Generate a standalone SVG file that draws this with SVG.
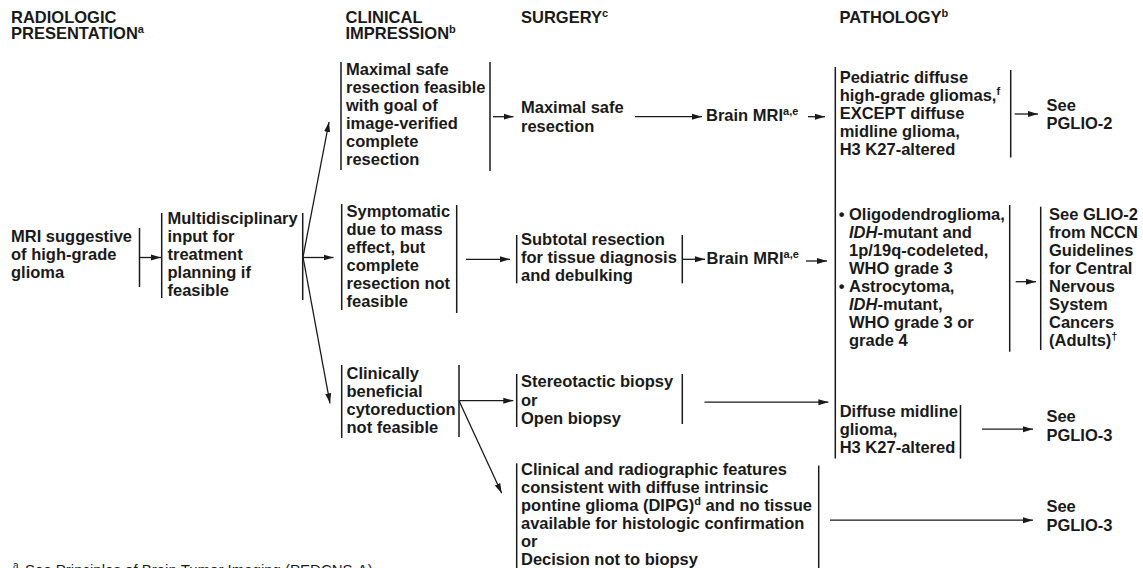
<svg xmlns="http://www.w3.org/2000/svg" width="1143" height="568" viewBox="0 0 1143 568">
<defs>
<style>
text{font-family:"Liberation Sans",Arial,sans-serif;font-size:16.5px;font-weight:bold;fill:#1a1a1a}
.sup{font-size:11px}
.it{font-style:italic}
.foot{font-weight:normal;font-size:15px}
.bar{stroke:#1a1a1a;stroke-width:1.5;fill:none}
.con{stroke:#1a1a1a;stroke-width:1.3;fill:none;marker-end:url(#ah)}
</style>
<marker id="ah" markerUnits="userSpaceOnUse" markerWidth="10" markerHeight="7" refX="10" refY="3.5" orient="auto">
<path d="M0,0.5 L10,3.5 L0,6.5 z" fill="#1a1a1a"/>
</marker>
</defs>
<rect width="1143" height="568" fill="#ffffff"/>

<g id="headers">
<text x="11" y="22.5">RADIOLOGIC</text>
<text x="11" y="38.5">PRESENTATION<tspan class="sup" dy="-6">a</tspan></text>
<text x="345.5" y="22.5">CLINICAL</text>
<text x="345.5" y="38.5">IMPRESSION<tspan class="sup" dy="-6">b</tspan></text>
<text x="521" y="22.5">SURGERY<tspan class="sup" dy="-6">c</tspan></text>
<text x="839.5" y="22.5">PATHOLOGY<tspan class="sup" dy="-6">b</tspan></text>
</g>

<g id="n-mri">
<text x="11" y="242">MRI suggestive</text>
<text x="11" y="260">of high-grade</text>
<text x="11" y="278">glioma</text>
<line class="bar" x1="139.5" y1="228" x2="139.5" y2="287"/>
</g>

<g id="n-multi">
<line class="bar" x1="161.7" y1="213" x2="161.7" y2="298"/>
<text x="167.5" y="224.3">Multidisciplinary</text>
<text x="167.5" y="242.3">input for</text>
<text x="167.5" y="260.3">treatment</text>
<text x="167.5" y="278.3">planning if</text>
<text x="167.5" y="296.3">feasible</text>
<line class="bar" x1="302.7" y1="213" x2="302.7" y2="300"/>
</g>

<g id="n-maxfeasible">
<line class="bar" x1="341" y1="62" x2="341" y2="170"/>
<text x="346" y="75">Maximal safe</text>
<text x="346" y="93">resection feasible</text>
<text x="346" y="111">with goal of</text>
<text x="346" y="129">image-verified</text>
<text x="346" y="147">complete</text>
<text x="346" y="165">resection</text>
<line class="bar" x1="490" y1="62" x2="490" y2="171"/>
</g>

<g id="n-maxresection">
<text x="521" y="113.3">Maximal safe</text>
<text x="521" y="131.5">resection</text>
</g>

<g id="n-mri1">
<text x="706" y="120.7">Brain MRI<tspan class="sup" dy="-6">a,e</tspan></text>
</g>

<g id="n-pediatric">
<text x="839.7" y="82.7">Pediatric diffuse</text>
<text x="839.7" y="100.7">high-grade gliomas,<tspan class="sup" dy="-6">f</tspan></text>
<text x="839.7" y="118.7">EXCEPT diffuse</text>
<text x="839.7" y="136.7">midline glioma,</text>
<text x="839.7" y="154.7">H3 K27-altered</text>
<line class="bar" x1="1010.7" y1="70" x2="1010.7" y2="157.5"/>
</g>

<g id="n-pathbar">
<line class="bar" x1="835.3" y1="67" x2="835.3" y2="458.6"/>
</g>

<g id="n-pglio2">
<text x="1046.5" y="111">See</text>
<text x="1046.5" y="129">PGLIO-2</text>
</g>

<g id="n-symptomatic">
<line class="bar" x1="341.7" y1="204" x2="341.7" y2="310"/>
<text x="346.5" y="217">Symptomatic</text>
<text x="346.5" y="235">due to mass</text>
<text x="346.5" y="253">effect, but</text>
<text x="346.5" y="271">complete</text>
<text x="346.5" y="289">resection not</text>
<text x="346.5" y="307">feasible</text>
<line class="bar" x1="456.7" y1="205" x2="456.7" y2="313"/>
</g>

<g id="n-subtotal">
<line class="bar" x1="516.7" y1="235" x2="516.7" y2="283.3"/>
<text x="521" y="245">Subtotal resection</text>
<text x="521" y="263">for tissue diagnosis</text>
<text x="521" y="281">and debulking</text>
<line class="bar" x1="682.3" y1="235" x2="682.3" y2="283.3"/>
</g>

<g id="n-mri2">
<text x="706.5" y="264">Brain MRI<tspan class="sup" dy="-6">a,e</tspan></text>
</g>

<g id="n-oligo">
<text x="838.7" y="220">•</text>
<text x="849" y="220">Oligodendroglioma,</text>
<text x="849" y="238"><tspan class="it">IDH</tspan>-mutant and</text>
<text x="849" y="256">1p/19q-codeleted,</text>
<text x="849" y="274">WHO grade 3</text>
<text x="838.7" y="292">•</text>
<text x="849" y="292">Astrocytoma,</text>
<text x="849" y="310"><tspan class="it">IDH</tspan>-mutant,</text>
<text x="849" y="328">WHO grade 3 or</text>
<text x="849" y="346">grade 4</text>
<line class="bar" x1="1009.7" y1="205" x2="1009.7" y2="351.7"/>
</g>

<g id="n-glio2">
<line class="bar" x1="1040.7" y1="206.7" x2="1040.7" y2="350"/>
<text x="1049" y="220">See GLIO-2</text>
<text x="1049" y="238">from NCCN</text>
<text x="1049" y="256">Guidelines</text>
<text x="1049" y="274">for Central</text>
<text x="1049" y="292">Nervous</text>
<text x="1049" y="310">System</text>
<text x="1049" y="328">Cancers</text>
<text x="1049" y="346">(Adults)<tspan class="sup" dy="-6">†</tspan></text>
</g>

<g id="n-clinically">
<line class="bar" x1="341.7" y1="365" x2="341.7" y2="438"/>
<text x="346.5" y="379.3">Clinically</text>
<text x="346.5" y="397.3">beneficial</text>
<text x="346.5" y="415.3">cytoreduction</text>
<text x="346.5" y="433.3">not feasible</text>
<line class="bar" x1="459" y1="365" x2="459" y2="437"/>
</g>

<g id="n-biopsy">
<line class="bar" x1="516.7" y1="374" x2="516.7" y2="427"/>
<text x="521" y="387">Stereotactic biopsy</text>
<text x="521" y="405.5">or</text>
<text x="521" y="424">Open biopsy</text>
<line class="bar" x1="682.3" y1="374" x2="682.3" y2="424"/>
</g>

<g id="n-midline">
<text x="839.7" y="417">Diffuse midline</text>
<text x="839.7" y="435">glioma,</text>
<text x="839.7" y="453">H3 K27-altered</text>
<line class="bar" x1="960.5" y1="405" x2="960.5" y2="458.6"/>
</g>

<g id="n-pglio3a">
<text x="1046.4" y="422.3">See</text>
<text x="1046.4" y="441.3">PGLIO-3</text>
</g>

<g id="n-dipg">
<line class="bar" x1="516.7" y1="463.3" x2="516.7" y2="568"/>
<text x="521" y="475">Clinical and radiographic features</text>
<text x="521" y="493">consistent with diffuse intrinsic</text>
<text x="521" y="511">pontine glioma (DIPG)<tspan class="sup" dy="-6">d</tspan><tspan dy="6"> and no tissue</tspan></text>
<text x="521" y="529">available for histologic confirmation</text>
<text x="521" y="547">or</text>
<text x="521" y="565">Decision not to biopsy</text>
<line class="bar" x1="818.7" y1="465.5" x2="818.7" y2="568"/>
</g>

<g id="n-pglio3b">
<text x="1046.4" y="512.2">See</text>
<text x="1046.4" y="531.3">PGLIO-3</text>
</g>

<g id="connectors">
<line class="con" x1="140" y1="257.5" x2="161" y2="257.5"/>
<line class="con" x1="303" y1="257" x2="329" y2="122"/>
<line class="con" x1="303" y1="257.5" x2="333.5" y2="257.5"/>
<line class="con" x1="303" y1="257" x2="330" y2="403.3"/>
<line class="con" x1="493" y1="116.7" x2="513.5" y2="116.7"/>
<line class="con" x1="635" y1="116.7" x2="702" y2="116.7"/>
<line class="con" x1="808" y1="116.7" x2="825" y2="116.7"/>
<line class="con" x1="1014.7" y1="114" x2="1038" y2="114"/>
<line class="con" x1="466" y1="259.3" x2="510" y2="259.3"/>
<line class="con" x1="682.3" y1="259.3" x2="705" y2="259.3"/>
<line class="con" x1="806" y1="261" x2="827" y2="261"/>
<line class="con" x1="1015.7" y1="281.7" x2="1036" y2="281.7"/>
<line class="con" x1="459" y1="400.7" x2="513.3" y2="400.7"/>
<line class="con" x1="459" y1="400.7" x2="501.7" y2="493.3"/>
<line class="con" x1="704.5" y1="402.2" x2="828.4" y2="402.2"/>
<line class="con" x1="982" y1="429.2" x2="1033" y2="429.2"/>
<line class="con" x1="830" y1="520.2" x2="1033" y2="520.2"/>
</g>

<g id="footnote">
<text class="foot" x="13" y="569" style="font-size:10px">a</text>
<text class="foot" x="25" y="575">See Principles of Brain Tumor Imaging (PEDCNS-A).</text>
</g>
</svg>
